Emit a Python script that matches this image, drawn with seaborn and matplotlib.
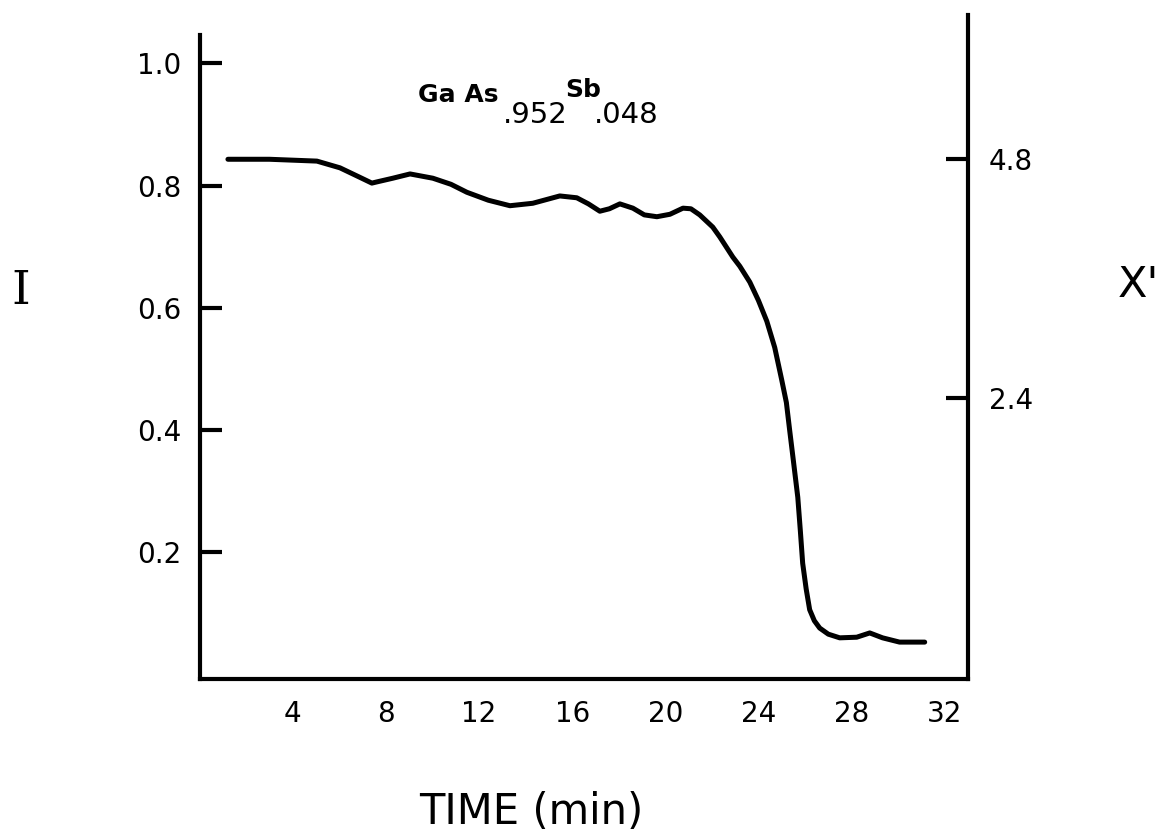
import matplotlib
matplotlib.use("Agg")
import matplotlib.pyplot as plt
import seaborn as sns
import pandas as pd

# Recorded intensity trace during growth of GaAs(.952)Sb(.048)
time_min = [1.22, 3.0, 5.04, 6.03, 6.8, 7.40, 7.62, 8.3, 9.04, 10.02, 10.8,
            11.48, 12.4, 13.33, 14.31, 15.47, 16.20, 16.7, 17.19, 17.6, 18.05,
            18.61, 19.1, 19.64, 20.2, 20.76, 21.1, 21.48, 22.04, 22.34, 22.90,
            23.2, 23.63, 24.0, 24.36, 24.7, 25.00, 25.2, 25.34, 25.5, 25.69,
            25.8, 25.90, 26.05, 26.20, 26.4, 26.63, 27.0, 27.49, 28.22, 28.78,
            29.33, 30.06, 31.14]
intensity = [0.843, 0.843, 0.840, 0.829, 0.815, 0.804, 0.806, 0.812, 0.819,
             0.812, 0.802, 0.789, 0.776, 0.767, 0.771, 0.783, 0.780, 0.770,
             0.758, 0.762, 0.770, 0.763, 0.752, 0.749, 0.753, 0.763, 0.762,
             0.752, 0.732, 0.716, 0.683, 0.668, 0.642, 0.612, 0.578, 0.535,
             0.482, 0.445, 0.400, 0.350, 0.290, 0.235, 0.182, 0.140, 0.106,
             0.088, 0.076, 0.066, 0.060, 0.061, 0.068, 0.060, 0.053, 0.053]

x_ticks = [4, 8, 12, 16, 20, 24, 28, 32]
i_ticks = [0.2, 0.4, 0.6, 0.8, 1.0]
i_tick_labels = ["0.2", "0.4", "0.6", "0.8", "1.0"]
xp_ticks = [2.4, 4.8]
xp_tick_labels = ["2.4", "4.8"]

# Right-hand scale X' is linear in I: X' = XP_PER_I * (I - I_AT_XP0)
XP_PER_I = 6.137
I_AT_XP0 = 0.0613

df = pd.DataFrame({"time": time_min, "I": intensity})

sns.set_theme(style="white")
plt.rcParams["font.family"] = ["DejaVu Sans"]
plt.rcParams["text.color"] = "black"

fig = plt.figure(figsize=(11.6, 8.35), dpi=100)
ax = fig.add_axes([0.172, 0.1868, 0.8345 - 0.172, 0.982 - 0.1868])

sns.lineplot(data=df, x="time", y="I", ax=ax, color="black", linewidth=3.6,
             estimator=None, sort=False, solid_joinstyle="round",
             solid_capstyle="round")

i_lo, i_hi = -0.0074, 1.079
ax.set_xlim(0, 33.0)
ax.set_ylim(i_lo, i_hi)
ax.set_xlabel("")
ax.set_ylabel("")
ax.set_xticks(x_ticks)
ax.set_xticklabels([str(t) for t in x_ticks])
ax.set_yticks(i_ticks)
ax.set_yticklabels(i_tick_labels)

for side in ("top", "right"):
    ax.spines[side].set_visible(False)
for side in ("left", "bottom"):
    ax.spines[side].set_color("black")
    ax.spines[side].set_linewidth(3.0)
ax.spines["left"].set_bounds(i_lo, 1.047)

ax.tick_params(axis="x", direction="in", length=15, width=3.0, pad=15,
               labelsize=20, colors="black")
ax.tick_params(axis="y", direction="in", length=16, width=3.0, pad=13,
               labelsize=20, colors="black")

ax2 = ax.twinx()
ax2.set_ylim(XP_PER_I * (i_lo - I_AT_XP0), XP_PER_I * (i_hi - I_AT_XP0))
ax2.set_yticks(xp_ticks)
ax2.set_yticklabels(xp_tick_labels)
for side in ("top", "left", "bottom"):
    ax2.spines[side].set_visible(False)
ax2.spines["right"].set_color("black")
ax2.spines["right"].set_linewidth(3.0)
ax2.tick_params(axis="y", direction="in", length=16, width=3.0, pad=15,
                labelsize=20, colors="black")
ax2.grid(False)
ax.grid(False)

# Axis titles
fig.text(21 / 1160, 1 - 291 / 835, "I", family="DejaVu Serif", fontsize=34,
         ha="center", va="center", color="black")
fig.text(1138 / 1160, 1 - 285 / 835, "X'", fontsize=31,
         ha="center", va="center", color="black")
fig.text(531 / 1160, 1 - 812 / 835, "TIME (min)", fontsize=30,
         ha="center", va="center", color="black")

# Compound label
fig.text(418 / 1160, 1 - 102 / 835, "Ga As", fontsize=18, ha="left",
         va="baseline", fontweight="bold", color="black")
fig.text(503 / 1160, 1 - 123 / 835, ".952", fontsize=21, ha="left",
         va="baseline", color="black")
fig.text(565 / 1160, 1 - 97 / 835, "Sb", fontsize=18, ha="left",
         va="baseline", fontweight="bold", color="black")
fig.text(594 / 1160, 1 - 123 / 835, ".048", fontsize=21, ha="left",
         va="baseline", color="black")

fig.savefig("out.png", dpi=100, facecolor="white")
